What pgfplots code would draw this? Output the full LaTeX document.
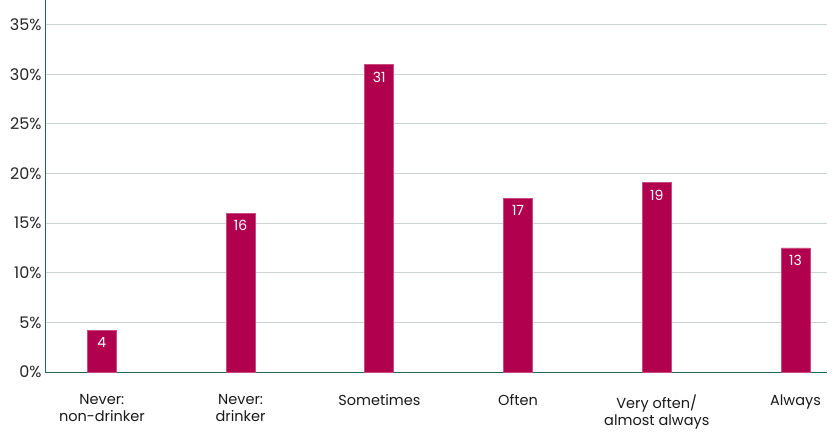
\documentclass[border=0pt]{standalone}
\usepackage{pgfplots}
\pgfplotsset{compat=1.18}
\usepackage{fontspec}
\setmainfont{Poppins}

\definecolor{barfill}{HTML}{B0004E}
\definecolor{baredge}{HTML}{C94B80}
\definecolor{axisgreen}{HTML}{1E6B4B}
\definecolor{gridgray}{HTML}{CAD3D1}

\begin{document}
\begin{tikzpicture}
\begin{axis}[
  at={(45pt,59pt)}, anchor=south west,
  scale only axis,
  width=782pt, height=372pt,
  ybar, bar width=29pt,
  xmin=-0.41, xmax=5.227,
  ymin=0, ymax=37.5,
  ytick={0,5,...,35},
  yticklabel={\pgfmathprintnumber{\tick}\%},
  /pgf/number format/assume math mode=true,
  yticklabel style={font=\fontsize{16}{18}\selectfont, color=black!85},
  xtick=data,
  xticklabels={{Never:\\non-drinker},{Never:\\drinker},Sometimes,Often,{Very often/\\almost always},Always},
  xticklabel style={align=center, font=\fontsize{14.5}{17}\selectfont, yshift=-19pt, color=black!90},
  major tick length=0pt,
  axis x line*=bottom, axis y line*=left,
  axis line style={axisgreen, line width=1pt, -},
  ymajorgrids, grid style={gridgray, line width=1pt},
  point meta=explicit symbolic,
  nodes near coords,
  nodes near coords style={anchor=north, inner sep=0pt, yshift=-7pt, text=white, font=\fontsize{14}{16}\selectfont},
]
\addplot[fill=barfill, draw=baredge, line width=0.7pt] coordinates {
  (0,4.2) [4]
  (1,16.0) [16]
  (2,31.0) [31]
  (3,17.5) [17]
  (4,19.1) [19]
  (5,12.5) [13]
};
\end{axis}
\pgfresetboundingbox
\path[use as bounding box] (0,0) rectangle (840pt,431pt);
\end{tikzpicture}
\end{document}
